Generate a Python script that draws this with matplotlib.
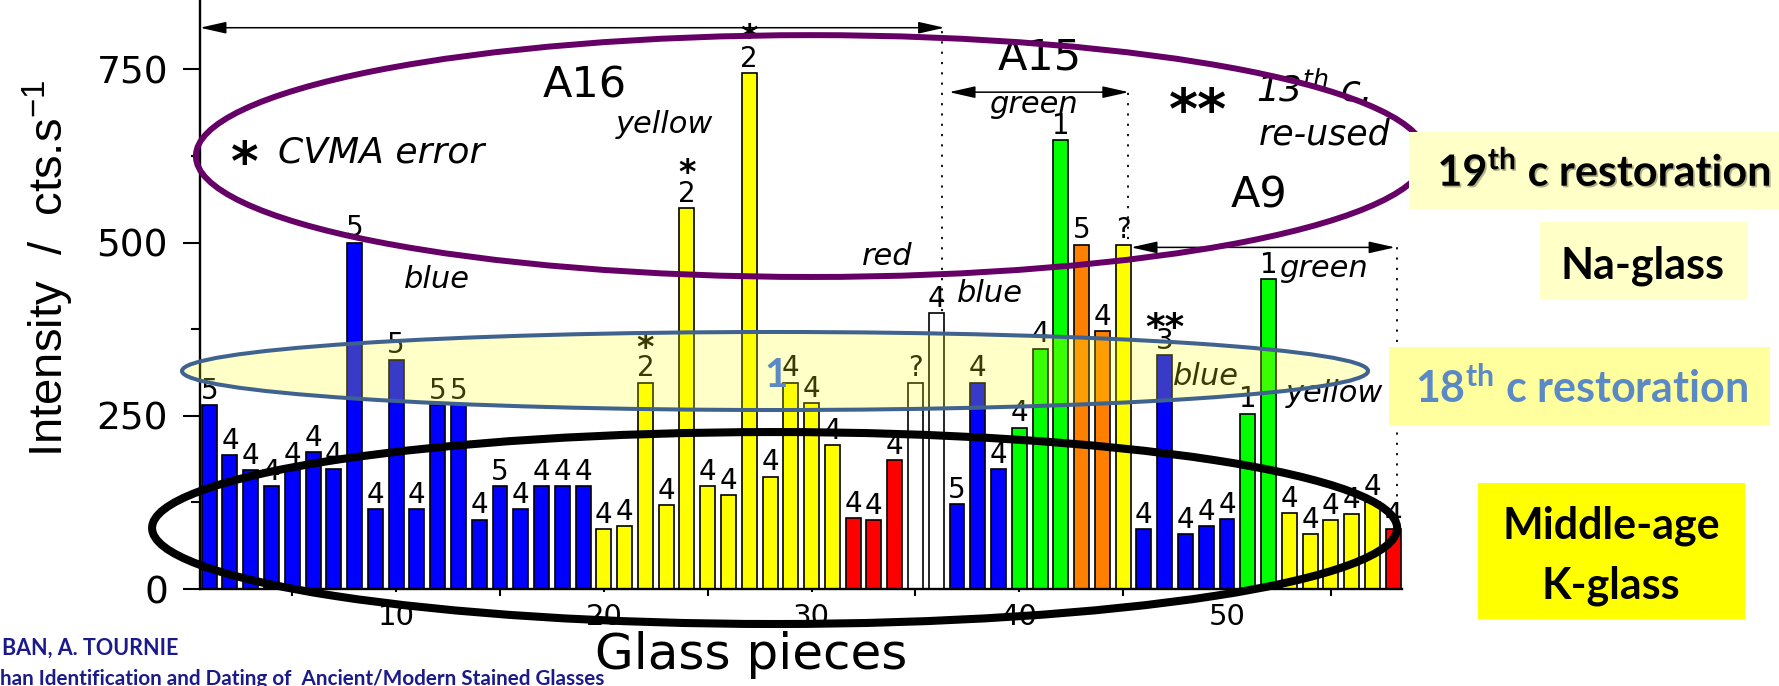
import matplotlib
matplotlib.use('Agg')
import matplotlib.pyplot as plt
import matplotlib.patheffects as pe
from matplotlib.patches import Ellipse, Rectangle
from matplotlib import font_manager

# glass pieces 1..58, intensity in cts/s
pieces = list(range(1, 59))
intensity = [265, 193, 172, 149, 173, 198, 173, 500, 115, 331,
             115, 265, 265, 100, 149, 115, 149, 149, 149, 86,
             91, 298, 121, 550, 148, 136, 745, 162, 298, 268,
             208, 102, 99, 186, 298, 398, 122, 298, 173, 233,
             347, 648, 497, 372, 497, 86, 337, 79, 91, 101,
             253, 447, 109, 79, 99, 108, 126, 86]
glass_colour = (['blue'] * 19 + ['yellow'] * 12 + ['red'] * 3 + ['white'] * 2 +
                ['blue'] * 3 + ['green'] * 3 + ['orange'] * 2 + ['yellow'] +
                ['blue'] * 5 + ['green'] * 2 + ['yellow'] * 5 + ['red'])
group = ['5', '4', '4', '4', '4', '4', '4', '5', '4', '5',
         '4', '5', '5', '4', '5', '4', '4', '4', '4', '4',
         '4', '2', '4', '2', '4', '4', '2', '4', '4', '4',
         '4', '4', '4', '4', '?', '4', '5', '4', '4', '4',
         '4', '1', '5', '4', '?', '4', '3', '4', '4', '4',
         '1', '1', '4', '4', '4', '4', '4', '4']
stars = {22: '*', 24: '*', 27: '*', 47: '**'}
xtick_labels = ['10', '20', '30', '40', '50']

palette = {'blue': '#0000FF', 'yellow': '#FFFF00', 'red': '#FF0000', 'white': '#FFFFFF',
           'green': '#00FF00', 'orange': '#FF8000'}

W, H = 1779, 686
plt.rcParams['font.family'] = 'DejaVu Sans'
names = {f.name for f in font_manager.fontManager.ttflist}
narrow = 'Liberation Sans Narrow' if 'Liberation Sans Narrow' in names else 'Liberation Sans'

fig = plt.figure(figsize=(W / 100, H / 100), dpi=100)
ax = fig.add_axes([200 / W, 97 / H, 1201.7 / W, 589 / H])

ax.bar(pieces, intensity, width=0.72, color=[palette[c] for c in glass_colour],
       edgecolor='black', linewidth=1.2, zorder=2)
ax.set_xlim(0.557, 58.41)
ax.set_ylim(0, 850)
for s in ['top', 'right']:
    ax.spines[s].set_visible(False)
for s in ['left', 'bottom']:
    ax.spines[s].set_linewidth(1.7)

ax.set_yticks([0, 250, 500, 750])
ax.set_yticks([125, 375, 625], minor=True)
ax.tick_params(axis='y', which='major', length=12, width=1.5, labelsize=27, pad=11)
ax.tick_params(axis='y', which='minor', length=6.5, width=1.5)
ax.set_xticks([10, 20, 30, 40, 50], xtick_labels)
ax.set_xticks([5, 15, 25, 35, 45, 55], minor=True)
ax.tick_params(axis='x', which='major', length=2, width=1.5, labelsize=21, pad=8)
ax.tick_params(axis='x', which='minor', direction='inout', length=9.5, width=1.5)

# group numbers on top of bars
for x, v, lab in zip(pieces, intensity, group):
    ax.annotate(lab, (x, v), xytext=(0, 4.5), textcoords='offset points',
                ha='center', va='baseline', fontsize=20, zorder=3)
for x, s in stars.items():
    ax.annotate(s, (x, intensity[x - 1]), xytext=(0, 18 if s == '*' else 12),
                textcoords='offset points', ha='center', va='baseline',
                fontsize=24 if s == '*' else 27, fontweight='bold', zorder=3)

# window sections
ax.vlines([36.28, 45.22, 58.17], 0, [806, 717, 493], colors='black',
          linestyles=(0, (1.2, 4.5)), lw=1.3, zorder=1)
arrow = dict(arrowstyle='<|-|>,head_length=0.8,head_width=0.18', color='black', lw=1.1,
             mutation_scale=20, shrinkA=0, shrinkB=0)
ax.annotate('', xy=(0.557, 810), xytext=(36.4, 810), arrowprops=arrow, annotation_clip=False)
ax.annotate('', xy=(36.62, 717), xytext=(45.27, 717), arrowprops=arrow, annotation_clip=False)
ax.annotate('', xy=(45.38, 493), xytext=(58.09, 493), arrowprops=arrow, annotation_clip=False)

for x, y, t in [(19.09, 710, 'A16'), (40.99, 749, 'A15'), (51.54, 550, 'A9')]:
    ax.text(x, y, t, fontsize=31, ha='center', va='baseline', zorder=3)

notes = [(22.9, 658, 'yellow', 22), (11.97, 435, 'blue', 22), (33.63, 467, 'red', 22),
         (38.59, 414, 'blue', 22), (40.66, 687, 'green', 22), (54.62, 450, 'green', 22),
         (48.99, 294, 'blue', 22), (55.15, 270, 'yellow', 22), (54.72, 641, 're-used', 25)]
for x, y, t, fs in notes:
    ax.text(x, y, t, fontsize=fs, style='italic', ha='center', va='baseline', zorder=3)
ax.text(4.32, 615, 'CVMA error', fontsize=26, style='italic', ha='left', va='baseline', zorder=3)
ax.text(2.73, 590, '*', fontsize=38, fontweight='bold', ha='center', va='baseline', zorder=3)
ax.text(48.6, 666, '**', fontsize=40, fontweight='bold', ha='center', va='baseline', zorder=3)
ax.text(51.4, 703, '13$^{\\mathregular{th}}$ c.', fontsize=26, style='italic',
        ha='left', va='baseline', zorder=3)

# highlighted groups
ax.add_patch(Ellipse((28.24, 314.6), 57.1, 112.6, facecolor=(1, 1, 0.08, 0.23),
                     edgecolor='#40628F', lw=2.9, zorder=4, clip_on=False))
ax.add_patch(Ellipse((28.22, 88), 59.94, 277, facecolor='none', edgecolor='black',
                     lw=5.8, zorder=5, clip_on=False))
ax.add_patch(Ellipse((29.97, 624.8), 59.22, 349, facecolor='none', edgecolor='#660066',
                     lw=4.3, zorder=5, clip_on=False))
ax.text(28.29, 291.5, '1', fontsize=29, fontfamily='Lato', fontweight='bold',
        color='#5B89C5', ha='center', va='baseline', zorder=6)

fig.text(48 / W, 1 - 268 / H, 'Intensity  /  cts.s$^{\\mathregular{-1}}$', rotation=90,
         ha='center', va='center', fontsize=34, fontfamily=narrow)
fig.text(751 / W, 1 - 669 / H, 'Glass pieces', ha='center', va='baseline', fontsize=36)

# side legend boxes
boxes = [(1409, 132, 1779, 209, '#FFFFC8'), (1540, 222, 1747, 300, '#FFFFC8'),
         (1389, 347, 1770, 425, '#FFFF9E'), (1478, 483, 1745, 619, '#FFFF00')]
for x0, y0, x1, y1, fc in boxes:
    fig.add_artist(Rectangle((x0 / W, 1 - y1 / H), (x1 - x0) / W, (y1 - y0) / H,
                             transform=fig.transFigure, fc=fc, ec='none', zorder=5))
side = dict(ha='center', va='baseline', fontfamily='Lato', fontweight='bold', fontsize=31, zorder=6)
fig.text(1604 / W, 1 - 186 / H, '19$^{\\mathregular{th}}$ c restoration',
         path_effects=[pe.withSimplePatchShadow(offset=(1.2, -1.2), alpha=0.3)], **side)
fig.text(1643 / W, 1 - 278 / H, 'Na-glass', **side)
fig.text(1582 / W, 1 - 403 / H, '18$^{\\mathregular{th}}$ c restoration', color='#5B89C5', **side)
fig.text(1611 / W, 1 - 539 / H, 'Middle-age', **side)
fig.text(1611 / W, 1 - 599 / H, 'K-glass', **side)

fig.text(2 / W, 1 - 655 / H, 'BAN, A. TOURNIE', fontfamily='Lato', fontweight='bold',
         fontsize=15.5, color='#1A1A8C', va='baseline')
fig.text(0, 1 - 685 / H, 'han Identification and Dating of  Ancient/Modern Stained Glasses',
         fontfamily='Lato', fontweight='bold', fontsize=14.9, color='#1A1A8C', va='baseline')

fig.savefig('out.png', dpi=100)
